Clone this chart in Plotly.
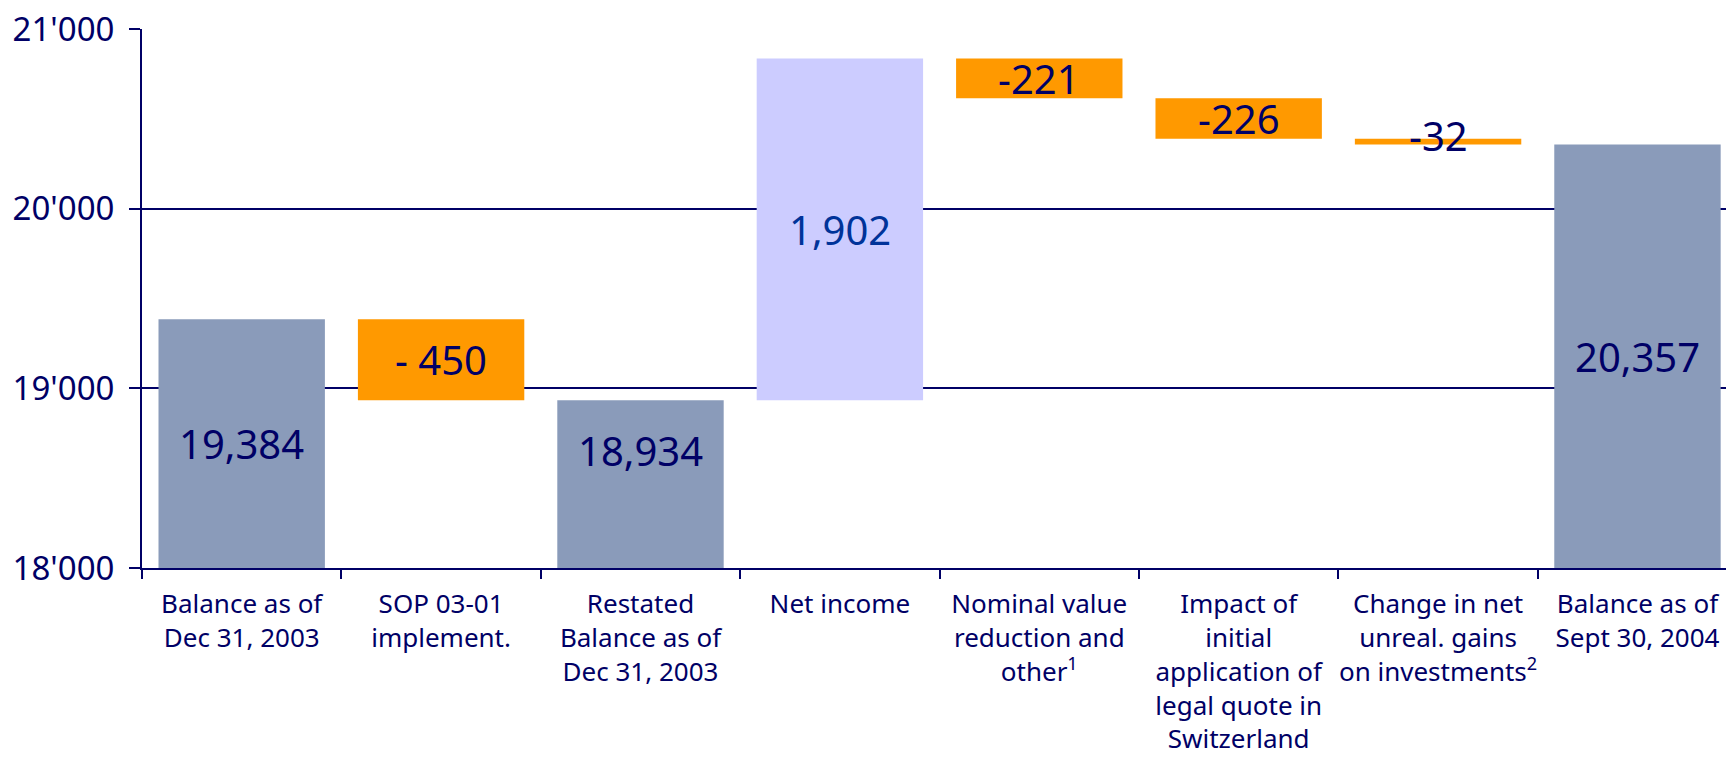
import plotly.graph_objects as go

# ---- data ----
categories = [
    "Balance as of<br>Dec 31, 2003",
    "SOP 03-01<br>implement.",
    "Restated<br>Balance as of<br>Dec 31, 2003",
    "Net income",
    "Nominal value<br>reduction and<br>other<sup>1</sup>",
    "Impact of<br>initial<br>application of<br>legal quote in<br>Switzerland",
    "Change in net<br>unreal. gains<br>on investments<sup>2</sup>",
    "Balance as of<br>Sept 30, 2004",
]
measures = ["absolute", "relative", "total", "relative", "relative", "relative", "relative", "total"]
values = [19384, -450, 18934, 1902, -221, -226, -32, 20357]
value_labels = ["19,384", "- 450", "18,934", "1,902", "-221", "-226", "-32", "20,357"]
y_tick_values = [18000, 19000, 20000, 21000]

# ---- style ----
NAVY = "#000066"
FONT = "Noto Sans"
Y_RANGE = [18000, 21000]
label_colors = {3: "#003399"}
label_yshift = {2: 34, 6: 6}

# waterfall expects 'total' entries not to carry values
wf_values = [v if m != "total" else None for v, m in zip(values, measures)]

fig = go.Figure()
fig.add_trace(go.Waterfall(
    x=categories,
    y=wf_values,
    measure=measures,
    base=0,
    connector=dict(visible=False),
    increasing=dict(marker=dict(color="#CCCCFF", line=dict(width=0))),
    decreasing=dict(marker=dict(color="#FF9900", line=dict(width=0))),
    totals=dict(marker=dict(color="#8A9BBA", line=dict(width=0))),
    hoverinfo="skip",
    showlegend=False,
))

# running totals for label placement
running = 0
for i, (m, v) in enumerate(zip(measures, values)):
    if m == "absolute":
        lo, hi = 0, v
        running = v
    elif m == "total":
        lo, hi = 0, running
    else:
        lo, hi = running, running + v
        running += v
    lo, hi = min(lo, hi), max(lo, hi)
    lo_c = max(lo, Y_RANGE[0])
    hi_c = min(hi, Y_RANGE[1])
    fig.add_annotation(
        x=categories[i], y=(lo_c + hi_c) / 2,
        text=value_labels[i], showarrow=False,
        xanchor="center", yanchor="middle",
        yshift=label_yshift.get(i, 0),
        font=dict(family=FONT, size=40, color=label_colors.get(i, NAVY)),
    )

fig.update_layout(
    width=1726, height=757,
    margin=dict(l=142, r=0, t=29, b=189),
    plot_bgcolor="white", paper_bgcolor="white",
    waterfallgap=0.1655,
    separators=".'",
    font=dict(family=FONT, color=NAVY),
)
fig.update_xaxes(
    type="category",
    range=[-0.5, 7.444],
    automargin=False,
    showgrid=False,
    showline=True, linecolor=NAVY, linewidth=2,
    ticks="outside", tickson="boundaries", ticklen=9, tickwidth=2, tickcolor=NAVY,
    tickfont=dict(family=FONT, size=26, color=NAVY),
    tickangle=0,
    ticklabelstandoff=12,
)
fig.update_yaxes(
    range=Y_RANGE,
    automargin=False,
    tickvals=y_tick_values,
    tickformat=",d",
    showgrid=True, gridcolor=NAVY, gridwidth=2,
    zeroline=False,
    showline=True, linecolor=NAVY, linewidth=2,
    ticks="outside", ticklen=11, tickwidth=2, tickcolor=NAVY,
    tickfont=dict(family=FONT, size=33, color=NAVY),
    ticklabelstandoff=8,
)

fig.write_html("out.html", config={"displayModeBar": False},
               post_script="document.body.style.margin='0';")
